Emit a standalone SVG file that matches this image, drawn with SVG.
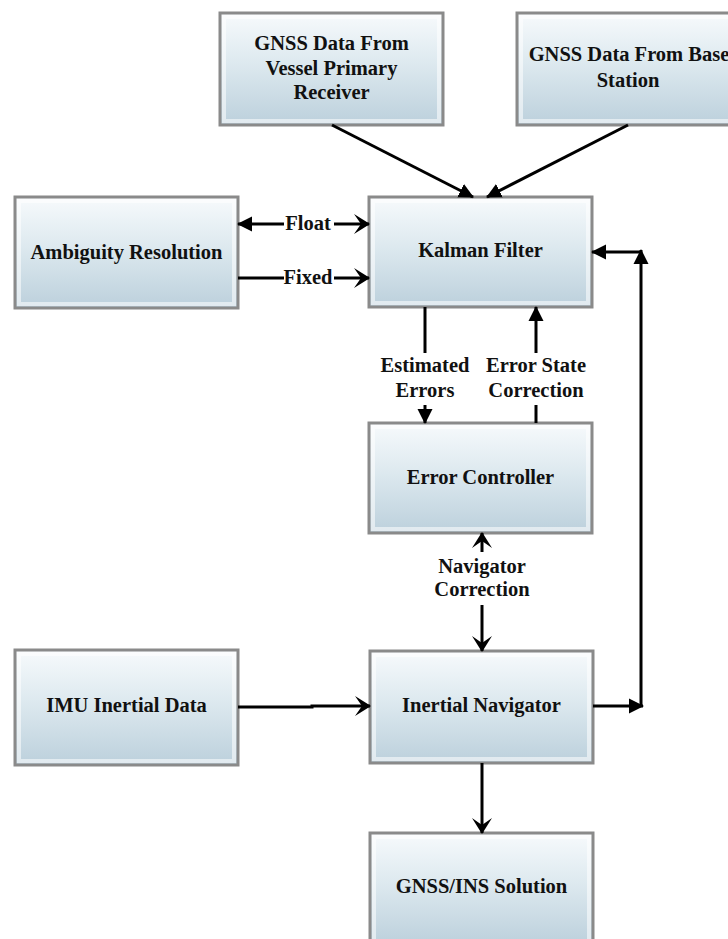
<svg xmlns="http://www.w3.org/2000/svg" width="728" height="939" viewBox="0 0 728 939">
<style>
.box{fill:url(#g);stroke:#8a8a8a;stroke-width:3}
.glow{fill:none;stroke:#ffffff;stroke-opacity:0.55;stroke-width:4}
.t{font-family:"Liberation Serif","Times New Roman",serif;font-weight:bold;font-size:20.5px;fill:#111;text-anchor:middle}
.c{fill:none;stroke:#000;stroke-width:3}
.f{marker-end:url(#fa)}
.o{marker-end:url(#oa)}
</style>
<defs>
<linearGradient id="g" x1="0" y1="0" x2="0" y2="1">
<stop offset="0" stop-color="#f7fafc"/>
<stop offset="0.45" stop-color="#dde9ef"/>
<stop offset="1" stop-color="#bcd0dc"/>
</linearGradient>
<marker id="fa" markerUnits="userSpaceOnUse" markerWidth="15" markerHeight="16" viewBox="0 0 15 16" refX="14" refY="8" orient="auto-start-reverse">
<path d="M0,0.5 L15,8 L0,15.5 z" fill="#000"/>
</marker>
<marker id="oa" markerUnits="userSpaceOnUse" markerWidth="16" markerHeight="20" viewBox="0 0 16 20" refX="15" refY="10" orient="auto-start-reverse">
<path d="M0,0 L16,10 L0,20 L7,10 z" fill="#000"/>
</marker>
</defs>

<g id="vessel">
<rect class="box" x="220" y="13" width="223" height="112"/>
<rect class="glow" x="224" y="17" width="215" height="104"/>
<text class="t" x="331.5" y="50">GNSS Data From</text>
<text class="t" x="331.5" y="75">Vessel Primary</text>
<text class="t" x="331.5" y="99">Receiver</text>
</g>
<g id="base">
<rect class="box" x="517" y="13" width="223" height="112"/>
<rect class="glow" x="521" y="17" width="215" height="104"/>
<text class="t" x="629" y="61">GNSS Data From Base</text>
<text class="t" x="628" y="87">Station</text>
</g>
<g id="ambiguity">
<rect class="box" x="15" y="197" width="223" height="111"/>
<rect class="glow" x="19" y="201" width="215" height="103"/>
<text class="t" x="126.5" y="259">Ambiguity Resolution</text>
</g>
<g id="kalman">
<rect class="box" x="369" y="197" width="223" height="110"/>
<rect class="glow" x="373" y="201" width="215" height="102"/>
<text class="t" x="480.5" y="257">Kalman Filter</text>
</g>
<g id="errctrl">
<rect class="box" x="369" y="423" width="223" height="110"/>
<rect class="glow" x="373" y="427" width="215" height="102"/>
<text class="t" x="480.5" y="484">Error Controller</text>
</g>
<g id="imu">
<rect class="box" x="15" y="650" width="223" height="115"/>
<rect class="glow" x="19" y="654" width="215" height="107"/>
<text class="t" x="126.5" y="712">IMU Inertial Data</text>
</g>
<g id="inav">
<rect class="box" x="370" y="651" width="223" height="112"/>
<rect class="glow" x="374" y="655" width="215" height="104"/>
<text class="t" x="481.5" y="712">Inertial Navigator</text>
</g>
<g id="solution">
<rect class="box" x="370" y="833" width="223" height="112"/>
<rect class="glow" x="374" y="837" width="215" height="104"/>
<text class="t" x="481.5" y="893">GNSS/INS Solution</text>
</g>

<g id="connectors">
<line class="c f" x1="332" y1="125" x2="473" y2="197"/>
<line class="c f" x1="628" y1="125" x2="487" y2="197"/>
<line class="c" x1="284" y1="224" x2="238" y2="224" style="marker-end:url(#fa)"/>
<line class="c o" x1="334" y1="224" x2="369" y2="224"/>
<line class="c" x1="238" y1="278" x2="284" y2="278"/>
<line class="c o" x1="334" y1="278" x2="369" y2="278"/>
<line class="c" x1="425" y1="307" x2="425" y2="353"/>
<line class="c f" x1="425" y1="405" x2="425" y2="423"/>
<line class="c" x1="536" y1="423" x2="536" y2="405"/>
<line class="c f" x1="536" y1="353" x2="536" y2="307"/>
<line class="c o" x1="482" y1="552" x2="482" y2="533"/>
<line class="c o" x1="482" y1="605" x2="482" y2="651"/>
<path class="c o" d="M238,707 H312 V706 H370"/>
<line class="c f" x1="593" y1="706" x2="643" y2="706"/>
<line class="c f" x1="641" y1="707" x2="641" y2="250"/>
<line class="c f" x1="641" y1="252" x2="592" y2="252"/>
<line class="c o" x1="482" y1="763" x2="482" y2="833"/>
<text class="t" x="308" y="230">Float</text>
<text class="t" x="308" y="284">Fixed</text>
<text class="t" x="425" y="372">Estimated</text>
<text class="t" x="425" y="397">Errors</text>
<text class="t" x="536" y="372">Error State</text>
<text class="t" x="536" y="397">Correction</text>
<text class="t" x="482" y="573">Navigator</text>
<text class="t" x="482" y="596">Correction</text>
</g>
</svg>
